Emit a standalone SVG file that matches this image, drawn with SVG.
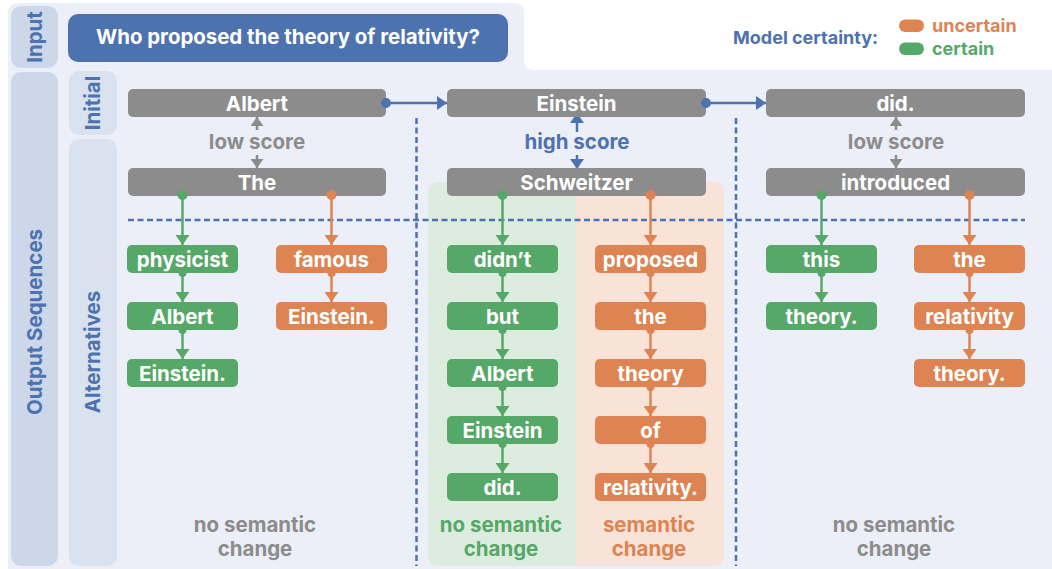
<svg xmlns="http://www.w3.org/2000/svg" width="1052" height="569" viewBox="0 0 1052 569">
<defs>
<style>
text{font-family:Inter,"Noto Sans","Liberation Sans",sans-serif;font-weight:700;}
.nt{fill:#fff;font-size:20.5px;text-anchor:middle;}
.gray{fill:#8C8C8C;}
.green{fill:#55A868;}
.orange{fill:#DD8452;}
.blue{fill:#4C72B0;}
.lbl{font-size:20.5px;text-anchor:middle;}
.side{font-size:20.5px;text-anchor:middle;fill:#4C72B0;}
.ln-g{stroke:#55A868;stroke-width:2.5;fill:none;}
.ln-o{stroke:#DD8452;stroke-width:2.5;fill:none;}
.ln-b{stroke:#4C72B0;stroke-width:2.5;fill:none;}
.ln-k{stroke:#8C8C8C;stroke-width:2.5;fill:none;}
.dash{stroke:#4C72B0;stroke-width:2.5;stroke-dasharray:6 3.5;fill:none;}
</style>
<marker id="ag" markerUnits="userSpaceOnUse" markerWidth="10" markerHeight="14" viewBox="0 0 10 14" refX="10" refY="7" orient="auto"><path d="M0,0L10,7L0,14Z" fill="#55A868"/></marker>
<marker id="ao" markerUnits="userSpaceOnUse" markerWidth="10" markerHeight="14" viewBox="0 0 10 14" refX="10" refY="7" orient="auto"><path d="M0,0L10,7L0,14Z" fill="#DD8452"/></marker>
<marker id="ab" markerUnits="userSpaceOnUse" markerWidth="10" markerHeight="14" viewBox="0 0 10 14" refX="10" refY="7" orient="auto"><path d="M0,0L10,7L0,14Z" fill="#4C72B0"/></marker>
<marker id="ak" markerUnits="userSpaceOnUse" markerWidth="9" markerHeight="13" viewBox="0 0 9 13" refX="9" refY="6.5" orient="auto"><path d="M0,0L9,6.5L0,13Z" fill="#8C8C8C"/></marker>
</defs>
<rect width="1052" height="569" fill="#fff"/>
<path d="M8,13Q8,3 18,3H514Q524,3 524,13V60Q524,70 534,70H1052V569H8Z" fill="#ECEFF7"/>
<g id="labels">
<rect x="11" y="6" width="47" height="62" rx="10" fill="#CCD8E9"/>
<text class="side" transform="translate(42,37) rotate(-90)">Input</text>
<rect x="11" y="72" width="47" height="494" rx="10" fill="#CCD8E9"/>
<text class="side" transform="translate(42,322) rotate(-90)">Output Sequences</text>
<rect x="69" y="71" width="48" height="64" rx="10" fill="#DAE2EF"/>
<text class="side" transform="translate(100,103) rotate(-90)">Initial</text>
<rect x="69" y="139" width="48" height="427" rx="10" fill="#DAE2EF"/>
<text class="side" transform="translate(100,352) rotate(-90)">Alternatives</text>
</g>
<g id="question">
<rect x="68" y="14" width="440" height="48" rx="10" fill="#4C72B0"/>
<text x="288" y="44" fill="#fff" font-size="20.4" text-anchor="middle">Who proposed the theory of relativity?</text>
</g>
<g id="legend">
<text x="733" y="44" font-size="18" class="blue">Model certainty:</text>
<rect x="899" y="19.5" width="25" height="12.5" rx="6.25" fill="#DD8452"/>
<text x="932" y="32" font-size="18" class="orange">uncertain</text>
<rect x="899" y="42.5" width="25" height="12.5" rx="6.25" fill="#55A868"/>
<text x="932" y="55" font-size="18" class="green">certain</text>
</g>
<g id="regions">
<path d="M438,182H576V566H438Q428,566 428,556V192Q428,182 438,182Z" fill="#DCEDE0"/>
<path d="M576,182H714Q724,182 724,192V556Q724,566 714,566H576Z" fill="#F9E3D9"/>
</g>
<g id="dividers">
<line class="dash" x1="416.5" y1="118" x2="416.5" y2="566"/>
<line class="dash" x1="736" y1="118" x2="736" y2="566"/>
<line class="dash" x1="128" y1="220" x2="1025" y2="220"/>
</g>
<g id="connectors">
<line class="ln-b" x1="386" y1="103" x2="447" y2="103" marker-end="url(#ab)"/>
<line class="ln-b" x1="706" y1="103" x2="766" y2="103" marker-end="url(#ab)"/>
<line class="ln-k" x1="257" y1="130" x2="257" y2="117" marker-end="url(#ak)"/>
<line class="ln-k" x1="257" y1="155" x2="257" y2="168" marker-end="url(#ak)"/>
<line class="ln-b" x1="577" y1="132" x2="577" y2="113" marker-end="url(#ab)"/>
<line class="ln-b" x1="577" y1="155" x2="577" y2="169" marker-end="url(#ab)"/>
<line class="ln-k" x1="896" y1="130" x2="896" y2="117" marker-end="url(#ak)"/>
<line class="ln-k" x1="896" y1="155" x2="896" y2="168" marker-end="url(#ak)"/>
<line class="ln-g" x1="182.5" y1="195" x2="182.5" y2="245" marker-end="url(#ag)"/>
<line class="ln-g" x1="182.5" y1="273" x2="182.5" y2="302" marker-end="url(#ag)"/>
<line class="ln-g" x1="182.5" y1="330" x2="182.5" y2="359" marker-end="url(#ag)"/>
<line class="ln-o" x1="331.5" y1="195" x2="331.5" y2="245" marker-end="url(#ao)"/>
<line class="ln-o" x1="331.5" y1="273" x2="331.5" y2="302" marker-end="url(#ao)"/>
<line class="ln-g" x1="502.5" y1="195" x2="502.5" y2="245" marker-end="url(#ag)"/>
<line class="ln-g" x1="502.5" y1="273" x2="502.5" y2="302" marker-end="url(#ag)"/>
<line class="ln-g" x1="502.5" y1="330" x2="502.5" y2="359" marker-end="url(#ag)"/>
<line class="ln-g" x1="502.5" y1="387" x2="502.5" y2="416" marker-end="url(#ag)"/>
<line class="ln-g" x1="502.5" y1="444" x2="502.5" y2="473" marker-end="url(#ag)"/>
<line class="ln-o" x1="650.5" y1="195" x2="650.5" y2="245" marker-end="url(#ao)"/>
<line class="ln-o" x1="650.5" y1="273" x2="650.5" y2="302" marker-end="url(#ao)"/>
<line class="ln-o" x1="650.5" y1="330" x2="650.5" y2="359" marker-end="url(#ao)"/>
<line class="ln-o" x1="650.5" y1="387" x2="650.5" y2="416" marker-end="url(#ao)"/>
<line class="ln-o" x1="650.5" y1="444" x2="650.5" y2="473" marker-end="url(#ao)"/>
<line class="ln-g" x1="821.5" y1="195" x2="821.5" y2="245" marker-end="url(#ag)"/>
<line class="ln-g" x1="821.5" y1="273" x2="821.5" y2="302" marker-end="url(#ag)"/>
<line class="ln-o" x1="969.5" y1="195" x2="969.5" y2="245" marker-end="url(#ao)"/>
<line class="ln-o" x1="969.5" y1="273" x2="969.5" y2="302" marker-end="url(#ao)"/>
<line class="ln-o" x1="969.5" y1="330" x2="969.5" y2="359" marker-end="url(#ao)"/>
</g>
<g id="score-labels">
<text x="257" y="149" class="lbl gray">low score</text>
<text x="577" y="149" class="lbl blue">high score</text>
<text x="896" y="149" class="lbl gray">low score</text>
</g>
<g id="initial-nodes">
<g id="n-albert"><rect x="128" y="89" width="258" height="28" rx="5" fill="#8C8C8C"/><text x="257" y="111" class="nt">Albert</text></g>
<g id="n-einstein"><rect x="447" y="89" width="259" height="28" rx="5" fill="#8C8C8C"/><text x="576.5" y="111" class="nt">Einstein</text></g>
<g id="n-did"><rect x="766" y="89" width="259" height="28" rx="5" fill="#8C8C8C"/><text x="895.5" y="111" class="nt">did.</text></g>
<g id="n-the"><rect x="128" y="168" width="258" height="28" rx="5" fill="#8C8C8C"/><text x="257" y="190" class="nt">The</text></g>
<g id="n-schweitzer"><rect x="447" y="168" width="259" height="28" rx="5" fill="#8C8C8C"/><text x="576.5" y="190" class="nt">Schweitzer</text></g>
<g id="n-introduced"><rect x="766" y="168" width="259" height="28" rx="5" fill="#8C8C8C"/><text x="895.5" y="190" class="nt">introduced</text></g>
</g>
<g id="parent-dots">
<circle cx="386" cy="103" r="5" fill="#4C72B0"/>
<circle cx="706" cy="103" r="5" fill="#4C72B0"/>
<circle cx="182.5" cy="195" r="5" fill="#55A868"/>
<circle cx="331.5" cy="195" r="5" fill="#DD8452"/>
<circle cx="502.5" cy="195" r="5" fill="#55A868"/>
<circle cx="650.5" cy="195" r="5" fill="#DD8452"/>
<circle cx="821.5" cy="195" r="5" fill="#55A868"/>
<circle cx="969.5" cy="195" r="5" fill="#DD8452"/>
</g>
<g id="alt-nodes">
<g id="a1g1"><rect x="127" y="245" width="111" height="28" rx="5" fill="#55A868"/><text x="182.5" y="267" class="nt">physicist</text></g>
<g id="a1g2"><rect x="127" y="302" width="111" height="28" rx="5" fill="#55A868"/><text x="182.5" y="324" class="nt">Albert</text></g>
<g id="a1g3"><rect x="127" y="359" width="111" height="28" rx="5" fill="#55A868"/><text x="182.5" y="381" class="nt">Einstein.</text></g>
<g id="a1o1"><rect x="276" y="245" width="111" height="28" rx="5" fill="#DD8452"/><text x="331.5" y="267" class="nt">famous</text></g>
<g id="a1o2"><rect x="276" y="302" width="111" height="28" rx="5" fill="#DD8452"/><text x="331.5" y="324" class="nt">Einstein.</text></g>
<g id="a2g1"><rect x="447" y="245" width="111" height="28" rx="5" fill="#55A868"/><text x="502.5" y="267" class="nt">didn’t</text></g>
<g id="a2g2"><rect x="447" y="302" width="111" height="28" rx="5" fill="#55A868"/><text x="502.5" y="324" class="nt">but</text></g>
<g id="a2g3"><rect x="447" y="359" width="111" height="28" rx="5" fill="#55A868"/><text x="502.5" y="381" class="nt">Albert</text></g>
<g id="a2g4"><rect x="447" y="416" width="111" height="28" rx="5" fill="#55A868"/><text x="502.5" y="438" class="nt">Einstein</text></g>
<g id="a2g5"><rect x="447" y="473" width="111" height="28" rx="5" fill="#55A868"/><text x="502.5" y="495" class="nt">did.</text></g>
<g id="a2o1"><rect x="595" y="245" width="111" height="28" rx="5" fill="#DD8452"/><text x="650.5" y="267" class="nt">proposed</text></g>
<g id="a2o2"><rect x="595" y="302" width="111" height="28" rx="5" fill="#DD8452"/><text x="650.5" y="324" class="nt">the</text></g>
<g id="a2o3"><rect x="595" y="359" width="111" height="28" rx="5" fill="#DD8452"/><text x="650.5" y="381" class="nt">theory</text></g>
<g id="a2o4"><rect x="595" y="416" width="111" height="28" rx="5" fill="#DD8452"/><text x="650.5" y="438" class="nt">of</text></g>
<g id="a2o5"><rect x="595" y="473" width="111" height="28" rx="5" fill="#DD8452"/><text x="650.5" y="495" class="nt">relativity.</text></g>
<g id="a3g1"><rect x="766" y="245" width="111" height="28" rx="5" fill="#55A868"/><text x="821.5" y="267" class="nt">this</text></g>
<g id="a3g2"><rect x="766" y="302" width="111" height="28" rx="5" fill="#55A868"/><text x="821.5" y="324" class="nt">theory.</text></g>
<g id="a3o1"><rect x="914" y="245" width="111" height="28" rx="5" fill="#DD8452"/><text x="969.5" y="267" class="nt">the</text></g>
<g id="a3o2"><rect x="914" y="302" width="111" height="28" rx="5" fill="#DD8452"/><text x="969.5" y="324" class="nt">relativity</text></g>
<g id="a3o3"><rect x="914" y="359" width="111" height="28" rx="5" fill="#DD8452"/><text x="969.5" y="381" class="nt">theory.</text></g>
</g>
<g id="alt-dots">
<circle cx="182.5" cy="273" r="4" fill="#55A868"/><circle cx="182.5" cy="330" r="4" fill="#55A868"/>
<circle cx="331.5" cy="273" r="4" fill="#DD8452"/>
<circle cx="502.5" cy="273" r="4" fill="#55A868"/><circle cx="502.5" cy="330" r="4" fill="#55A868"/><circle cx="502.5" cy="387" r="4" fill="#55A868"/><circle cx="502.5" cy="444" r="4" fill="#55A868"/>
<circle cx="650.5" cy="273" r="4" fill="#DD8452"/><circle cx="650.5" cy="330" r="4" fill="#DD8452"/><circle cx="650.5" cy="387" r="4" fill="#DD8452"/><circle cx="650.5" cy="444" r="4" fill="#DD8452"/>
<circle cx="821.5" cy="273" r="4" fill="#55A868"/>
<circle cx="969.5" cy="273" r="4" fill="#DD8452"/><circle cx="969.5" cy="330" r="4" fill="#DD8452"/>
</g>
<g id="outcomes">
<text x="255" y="532" class="lbl gray">no semantic</text>
<text x="255" y="556" class="lbl gray">change</text>
<text x="501" y="532" class="lbl green">no semantic</text>
<text x="501" y="556" class="lbl green">change</text>
<text x="649" y="532" class="lbl orange">semantic</text>
<text x="649" y="556" class="lbl orange">change</text>
<text x="894" y="532" class="lbl gray">no semantic</text>
<text x="894" y="556" class="lbl gray">change</text>
</g>
</svg>
